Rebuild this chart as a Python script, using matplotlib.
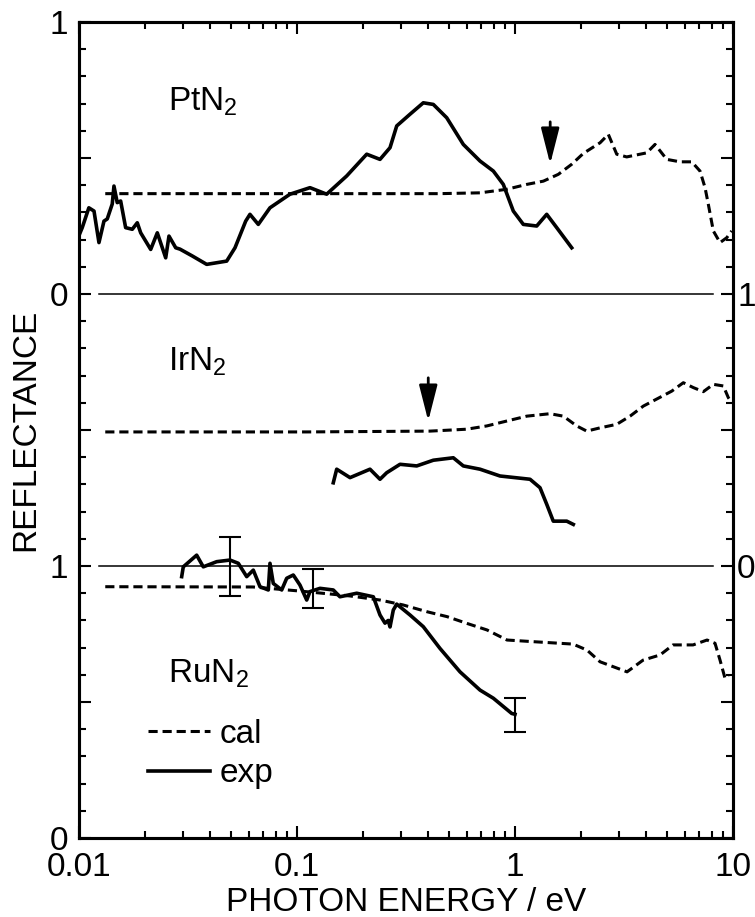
import matplotlib
matplotlib.use('Agg')
import matplotlib.pyplot as plt
from matplotlib.lines import Line2D
from matplotlib.ticker import FixedLocator, NullFormatter, MultipleLocator

plt.rcParams['font.family'] = ['Liberation Sans', 'DejaVu Sans']
plt.rcParams['mathtext.fontset'] = 'custom'
plt.rcParams['mathtext.rm'] = 'Liberation Sans'

# panel offsets: RuN2 at 0, IrN2 at 1, PtN2 at 2
offsets = {'RuN2': 0.0, 'IrN2': 1.0, 'PtN2': 2.0}

# PtN2
ptn2_exp_e = [0.0100, 0.01035, 0.0111, 0.01172, 0.01235, 0.01302, 0.01348, 0.01421, 0.01447,
              0.01498, 0.01553, 0.01637, 0.01756, 0.01851, 0.01919, 0.02133, 0.02287, 0.02499,
              0.02587, 0.02778, 0.02906, 0.03308, 0.03853, 0.04759, 0.05196, 0.05817, 0.06085,
              0.06645, 0.07518, 0.09288, 0.1147, 0.1368, 0.1690, 0.2088, 0.2403, 0.2671, 0.2867,
              0.3299, 0.3796, 0.4220, 0.4862, 0.5792, 0.6910, 0.7955, 0.8837, 0.9822, 1.0916,
              1.2576, 1.3977, 1.5536, 1.82]
ptn2_exp_r = [0.215, 0.244, 0.317, 0.305, 0.189, 0.268, 0.276, 0.331, 0.397,
              0.336, 0.342, 0.244, 0.238, 0.262, 0.225, 0.164, 0.225, 0.133,
              0.213, 0.170, 0.165, 0.140, 0.109, 0.121, 0.170, 0.268, 0.293,
              0.256, 0.317, 0.367, 0.391, 0.367, 0.434, 0.514, 0.495, 0.538, 0.618,
              0.661, 0.703, 0.697, 0.648, 0.550, 0.489, 0.452, 0.403, 0.305, 0.256,
              0.250, 0.293, 0.244, 0.170]
ptn2_cal_e = [0.0132, 0.1, 0.45, 0.691, 0.916, 1.132, 1.349, 1.580, 1.820, 2.058, 2.455, 2.679,
              2.928, 3.253, 4.020, 4.387, 4.965, 5.714, 6.465, 7.058, 7.441, 7.703, 8.121, 8.718,
              9.357, 9.86]
ptn2_cal_r = [0.369, 0.369, 0.369, 0.372, 0.385, 0.403, 0.415, 0.440, 0.477, 0.517, 0.556, 0.587,
              0.514, 0.504, 0.519, 0.550, 0.495, 0.486, 0.486, 0.452, 0.391, 0.330, 0.232, 0.189,
              0.207, 0.232]

# IrN2
irn2_exp_e = [0.1467, 0.1521, 0.1751, 0.2162, 0.2403, 0.2579, 0.2969, 0.3541, 0.4220, 0.5212,
              0.5792, 0.6910, 0.8535, 1.172, 1.302, 1.398, 1.498, 1.727, 1.851]
irn2_exp_r = [0.306, 0.356, 0.325, 0.356, 0.319, 0.343, 0.374, 0.368, 0.389, 0.398,
              0.368, 0.356, 0.331, 0.319, 0.288, 0.227, 0.165, 0.165, 0.153]
irn2_cal_e = [0.0132, 0.1108, 0.4075, 0.600, 0.7419, 0.916, 1.132, 1.447, 1.666, 1.919, 2.133,
              2.455, 2.928, 3.370, 3.878, 4.543, 5.235, 5.916, 6.576, 7.309, 8.121, 9.028,
              9.515, 9.9]
irn2_cal_r = [0.493, 0.493, 0.496, 0.503, 0.515, 0.533, 0.551, 0.560, 0.551, 0.515, 0.496,
              0.508, 0.521, 0.551, 0.588, 0.617, 0.643, 0.674, 0.656, 0.641, 0.668, 0.662,
              0.619, 0.600]

# RuN2
run2_exp_e = [0.02959, 0.03009, 0.03466, 0.03717, 0.04282, 0.04929, 0.05381, 0.05879, 0.06303,
              0.06766, 0.07386, 0.07518, 0.07785, 0.08507, 0.0897, 0.09617, 0.1032, 0.1108,
              0.1147, 0.1275, 0.1467, 0.1574, 0.1879, 0.2239, 0.2403, 0.2533, 0.2620, 0.2671,
              0.2765, 0.2867, 0.3299, 0.3796, 0.4529, 0.5594, 0.6910, 0.7955, 0.9658, 1.0]
run2_exp_r = [0.961, 0.997, 1.040, 0.997, 1.016, 1.022, 1.010, 0.961, 0.985,
              0.924, 0.912, 1.010, 0.936, 0.912, 0.955, 0.967, 0.930, 0.875,
              0.906, 0.918, 0.912, 0.887, 0.900, 0.887, 0.820, 0.790, 0.800, 0.776,
              0.838, 0.860, 0.820, 0.777, 0.697, 0.611, 0.544, 0.514, 0.458, 0.455]
run2_cal_e = [0.0132, 0.0628, 0.1032, 0.1751, 0.2403, 0.3064, 0.3948, 0.4877, 0.6024, 0.7440,
              0.9191, 1.209, 1.846, 2.139, 2.455, 3.265, 3.866, 4.626, 5.306, 6.556, 7.600,
              8.268, 8.718, 9.192, 9.515]
run2_cal_r = [0.924, 0.923, 0.908, 0.890, 0.875, 0.857, 0.832, 0.814, 0.789, 0.765,
              0.728, 0.722, 0.713, 0.691, 0.648, 0.611, 0.654, 0.673, 0.710, 0.710, 0.728,
              0.716, 0.654, 0.587, 0.599]
run2_err_e = [0.0493, 0.1188, 1.0]
run2_err_r = [0.999, 0.916, 0.453]
run2_err_d = [0.108, 0.072, 0.062]

# arrows (energy, tip, tail) in panel reflectance
arrow_pt = (1.45, 0.478, 0.633)
arrow_ir = (0.40, 0.533, 0.692)

FS = 24
LW = 2.6
DASH = (0, (3.0, 1.6))

fig = plt.figure(figsize=(7.55, 9.17), dpi=100)
ax = fig.add_axes([0.1046, 0.0861, 0.8663, 0.8899])


def shift(vals, name):
    return [v + offsets[name] for v in vals]


ax.plot(ptn2_cal_e, shift(ptn2_cal_r, 'PtN2'), color='k', lw=2.2, ls=DASH)
ax.plot(ptn2_exp_e, shift(ptn2_exp_r, 'PtN2'), color='k', lw=LW)
ax.plot(irn2_cal_e, shift(irn2_cal_r, 'IrN2'), color='k', lw=2.2, ls=DASH)
ax.plot(irn2_exp_e, shift(irn2_exp_r, 'IrN2'), color='k', lw=LW)
ax.plot(run2_cal_e, shift(run2_cal_r, 'RuN2'), color='k', lw=2.2, ls=DASH)
ax.plot(run2_exp_e, shift(run2_exp_r, 'RuN2'), color='k', lw=LW)
ax.errorbar(run2_err_e, run2_err_r, yerr=run2_err_d, fmt='none', ecolor='k',
            elinewidth=1.5, capsize=8, capthick=1.5)

# panel baselines
ax.axhline(offsets['IrN2'], xmin=0.03, xmax=0.97, color='k', lw=1.1)
ax.axhline(offsets['PtN2'], xmin=0.03, xmax=0.97, color='k', lw=1.1)

for (e, tip, tail), name in [(arrow_pt, 'PtN2'), (arrow_ir, 'IrN2')]:
    ax.annotate('', xy=(e, tip + offsets[name]), xytext=(e, tail + offsets[name]),
                arrowprops=dict(arrowstyle='-|>,head_length=1.1,head_width=0.28',
                                color='k', lw=2, shrinkA=0, shrinkB=0, mutation_scale=20))

ax.text(0.136, 0.892, r'PtN$_\mathregular{2}$', transform=ax.transAxes, fontsize=FS, va='baseline')
ax.text(0.136, 0.5735, r'IrN$_\mathregular{2}$', transform=ax.transAxes, fontsize=FS, va='baseline')
ax.text(0.136, 0.191, r'RuN$_\mathregular{2}$', transform=ax.transAxes, fontsize=FS, va='baseline')

handles = [Line2D([], [], color='k', lw=2.2, ls=DASH), Line2D([], [], color='k', lw=LW)]
ax.legend(handles, ['cal', 'exp'], loc='upper left', bbox_to_anchor=(0.1055, 0.146),
          frameon=False, fontsize=FS, handlelength=1.85, handletextpad=0.3,
          labelspacing=0.25, borderpad=0, borderaxespad=0)

ax.set_xscale('log')
ax.set_xlim(0.01, 10)
ax.set_ylim(0, 3)
ax.set_xticks([0.01, 0.1, 1, 10])
ax.set_xticklabels(['0.01', '0.1', '1', '10'])
ax.xaxis.set_minor_locator(FixedLocator([m * 10.0 ** d for d in (-2, -1, 0) for m in range(2, 10)]))
ax.xaxis.set_minor_formatter(NullFormatter())
ax.set_yticks([0, 0.5, 1, 1.5, 2, 2.5, 3])
ax.set_yticklabels(['0', '', '1', '', '0', '', '1'])
ax.yaxis.set_minor_locator(MultipleLocator(0.1))

ax.tick_params(which='both', direction='in', top=True, width=1.5, labelsize=FS)
ax.tick_params(which='major', length=8.6)
ax.tick_params(which='minor', length=4.8)
ax.tick_params(axis='y', pad=8)
ax.tick_params(axis='x', pad=10)

ax2 = ax.twinx()
ax2.set_ylim(0, 3)
ax2.set_yticks([0, 0.5, 1, 1.5, 2, 2.5, 3])
ax2.set_yticklabels(['', '', '0', '', '1', '', ''])
ax2.yaxis.set_minor_locator(MultipleLocator(0.1))
ax2.tick_params(which='both', direction='in', width=1.5, labelsize=FS, pad=3)
ax2.tick_params(which='major', length=8.6)
ax2.tick_params(which='minor', length=4.8)

for a in (ax, ax2):
    for s in a.spines.values():
        s.set_linewidth(2.2)

ax.set_xlabel('PHOTON ENERGY / eV', fontsize=FS, labelpad=3)
ax.set_ylabel('REFLECTANCE', fontsize=FS, labelpad=6)

fig.savefig('out.png', dpi=100)
plt.close(fig)
